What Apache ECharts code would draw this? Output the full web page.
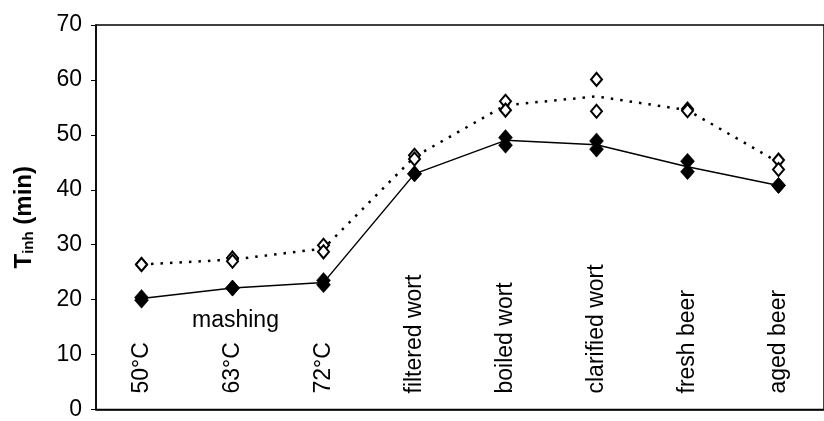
<!DOCTYPE html>
<html>
<head>
<meta charset="utf-8">
<script src="https://cdn.jsdelivr.net/npm/echarts@6/dist/echarts.min.js"></script>
<style>
  html, body { margin: 0; padding: 0; background: #fff; }
  #chart { width: 824px; height: 421px; }
</style>
</head>
<body>
<div id="chart"></div>
<script>
// categories (process steps)
var steps = ['50°C', '63°C', '72°C', 'filtered wort', 'boiled wort', 'clarified wort', 'fresh beer', 'aged beer'];

// filled diamonds, two replicates
var filledRep1 = [20.4, 22.1, 23.5, 42.9, 49.5, 48.9, 45.2, 40.8];
var filledRep2 = [19.9, 22.1, 22.7, 42.9, 48.1, 47.4, 43.3, 40.8];
// open diamonds, two replicates
var openRep1 = [26.4, 27.6, 29.9, 46.3, 56.1, 60.1, 54.7, 45.4];
var openRep2 = [26.4, 27.0, 28.7, 45.6, 54.5, 54.3, 54.4, 43.7];
// connecting lines
var solidLine = [20.2, 22.1, 23.1, 42.9, 49.0, 48.2, 44.2, 40.8];
var dottedLine = [26.4, 27.3, 29.3, 46.0, 55.4, 57.0, 54.5, 45.0];

var yTicks = [0, 10, 20, 30, 40, 50, 60, 70];

var font = '"Liberation Sans", Arial, sans-serif';
var chart = echarts.init(document.getElementById('chart'));

var filledStyle = {color: '#000', borderColor: '#000', borderWidth: 0.5, opacity: 1};
var openStyle = {color: '#fff', borderColor: '#000', borderWidth: 2, opacity: 1};

chart.setOption({
    animation: false,
    backgroundColor: '#fff',
    textStyle: {fontFamily: font, color: '#000'},
    grid: {left: 96, top: 25, width: 740, height: 393, show: true, borderColor: '#000', borderWidth: 1.5, backgroundColor: 'transparent'},
    xAxis: {
        type: 'category', data: steps, boundaryGap: true,
        axisLine: {lineStyle: {color: '#000', width: 1.5}},
        axisTick: {show: false},
        axisLabel: {inside: true, rotate: 90, margin: 16, fontSize: 23, color: '#000', fontFamily: font, interval: 0},
        splitLine: {show: false}
    },
    yAxis: {
        type: 'value', min: yTicks[0], max: yTicks[yTicks.length - 1], interval: 10,
        axisLine: {show: true, lineStyle: {color: '#000', width: 1.5}},
        axisTick: {show: true, length: 5, lineStyle: {color: '#000'}},
        axisLabel: {margin: 14, fontSize: 23, color: '#000', fontFamily: font},
        splitLine: {show: false},
        name: '{b|T}{s|inh}{b| (min)}', nameLocation: 'middle', nameGap: 60,
        nameTextStyle: {
            rich: {
                b: {fontSize: 24, fontWeight: 'bold', fontFamily: font, color: '#000', verticalAlign: 'bottom', lineHeight: 28},
                s: {fontSize: 15, fontWeight: 'bold', fontFamily: font, color: '#000', verticalAlign: 'bottom', lineHeight: 24}
            }
        }
    },
    graphic: [{
        type: 'text', left: 192, top: 309,
        style: {text: 'mashing', font: '23px ' + font, fill: '#000'}
    }],
    series: [
        {type: 'line', data: dottedLine, symbol: 'none', z: 2,
         lineStyle: {color: '#000', width: 2.5, type: [2.5, 7]}},
        {type: 'line', data: solidLine, symbol: 'none', z: 2,
         lineStyle: {color: '#000', width: 1.5}},
        {type: 'scatter', data: openRep1, symbol: 'diamond', symbolSize: [11, 13], itemStyle: openStyle, z: 3},
        {type: 'scatter', data: openRep2, symbol: 'diamond', symbolSize: [11, 13], itemStyle: openStyle, z: 3},
        {type: 'scatter', data: filledRep1, symbol: 'diamond', symbolSize: [14, 16], itemStyle: filledStyle, z: 4},
        {type: 'scatter', data: filledRep2, symbol: 'diamond', symbolSize: [14, 16], itemStyle: filledStyle, z: 4}
    ]
});
</script>
</body>
</html>
